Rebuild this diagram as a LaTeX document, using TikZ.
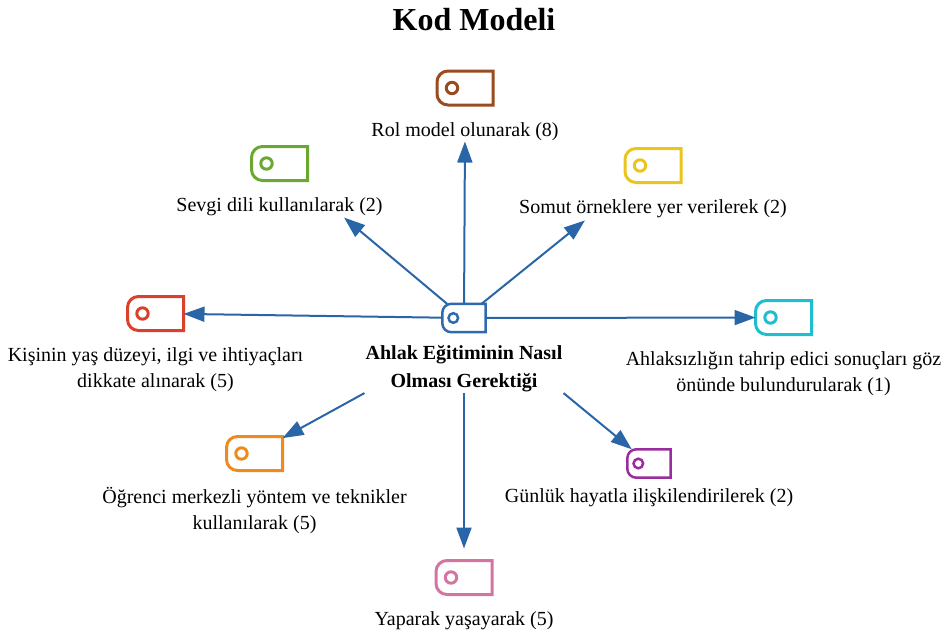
\documentclass[tikz,border=0pt]{standalone}
\usepackage{fontspec}
\setmainfont{Liberation Serif}
\usetikzlibrary{positioning, arrows.meta, calc}
\definecolor{mybrown}{RGB}{155,76,30}
\definecolor{mygreen}{RGB}{106,168,48}
\definecolor{myyellow}{RGB}{236,196,30}
\definecolor{myred}{RGB}{217,65,44}
\definecolor{mycyan}{RGB}{30,190,208}
\definecolor{myorange}{RGB}{238,138,30}
\definecolor{mypurple}{RGB}{155,44,157}
\definecolor{mypink}{RGB}{212,116,160}
\definecolor{myblue}{RGB}{46,107,174}
\definecolor{arrowblue}{RGB}{42,101,168}

\begin{document}
\begin{tikzpicture}[
  x=1pt, y=1pt,
  node distance=16pt,
  every node/.style={font=\fontsize{20}{26}\selectfont, align=center, inner sep=1pt},
  tagbig/.style={minimum width=53pt, minimum height=31pt, inner sep=0pt, outer sep=1.5pt},
  tagsmall/.style={minimum width=41pt, minimum height=26pt, inner sep=0pt, outer sep=1.2pt},
  arrow/.style={-{Triangle[length=21pt,width=15pt]}, line width=2pt, draw=arrowblue, fill=arrowblue}
]
\useasboundingbox (0,0) rectangle (944,-637);

% Title
\node[font=\bfseries\fontsize{32}{38}\selectfont] (title) at (474,-20) {Kod Modeli};

% Center
\node[tagsmall] (cen) at (464,-318) {};
\node[font=\bfseries\fontsize{20}{28}\selectfont, below=12pt of cen] (cenlab)
  {Ahlak Eğitiminin Nasıl\\Olması Gerektiği};

% Codes
\node[tagbig] (rol) at (465,-88) {};
\node[below=of rol] (rollab) {Rol model olunarak (8)};

\node[tagbig] (sevgi) at (279.5,-163.5) {};
\node[below=of sevgi] (sevgilab) {Sevgi dili kullanılarak (2)};

\node[tagbig] (somut) at (653,-165.5) {};
\node[below=of somut] (somutlab) {Somut örneklere yer verilerek (2)};

\node[tagbig] (kisi) at (155.5,-313.5) {};
\node[below=of kisi] (kisilab) {Kişinin yaş düzeyi, ilgi ve ihtiyaçları\\dikkate alınarak (5)};

\node[tagbig] (ahlak) at (783.5,-317.5) {};
\node[below=of ahlak] (ahlaklab) {Ahlaksızlığın tahrip edici sonuçları göz\\önünde bulundurularak (1)};

\node[tagbig] (ogr) at (254.5,-453.5) {};
\node[below=of ogr] (ogrlab) {Öğrenci merkezli yöntem ve teknikler\\kullanılarak (5)};

\node[tagsmall] (gunluk) at (649,-463.5) {};
\node[below=10pt of gunluk] (gunluklab) {Günlük hayatla ilişkilendirilerek (2)};

\node[tagbig] (yap) at (464,-577.5) {};
\node[below=of yap] (yaplab) {Yaparak yaşayarak (5)};

% Tag icons
\foreach \n/\c/\w/\r/\o/\d in {rol/mybrown/3/11/15/5.7, sevgi/mygreen/3/11/15/5.7,
    somut/myyellow/3/11/15/5.7, kisi/myred/3/11/15/5.7, ahlak/mycyan/3/11/15/5.7,
    ogr/myorange/3/11/15/5.7, yap/mypink/3/11/15/5.7,
    cen/myblue/2.5/9/11/4.8, gunluk/mypurple/2.5/9/11/4.8}
  \draw[\c, line width=\w pt]
    (\n.north east) -- (\n.south east) -- ([xshift=\r pt]\n.south west)
    arc[start angle=-90, end angle=-180, radius=\r pt] -- ([yshift=-\r pt]\n.north west)
    arc[start angle=180, end angle=90, radius=\r pt] -- cycle
    ([xshift=\o pt]\n.west) circle[radius=\d pt];

% Arrows
\draw[arrow] (cen) -- (rollab);
\draw[arrow] (cen) -- ($(cen)!0.65!(sevgi)$);
\draw[arrow] (cen) -- ($(cen)!0.64!(somut)$);
\draw[arrow] (cen) -- (kisi);
\draw[arrow] (cen) -- (ahlak);
\draw[arrow] (cenlab.south west) -- (ogr);
\draw[arrow] (cenlab.south east) -- (gunluk);
\draw[arrow, shorten >=12pt] (cenlab) -- (yap);

\end{tikzpicture}
\end{document}
